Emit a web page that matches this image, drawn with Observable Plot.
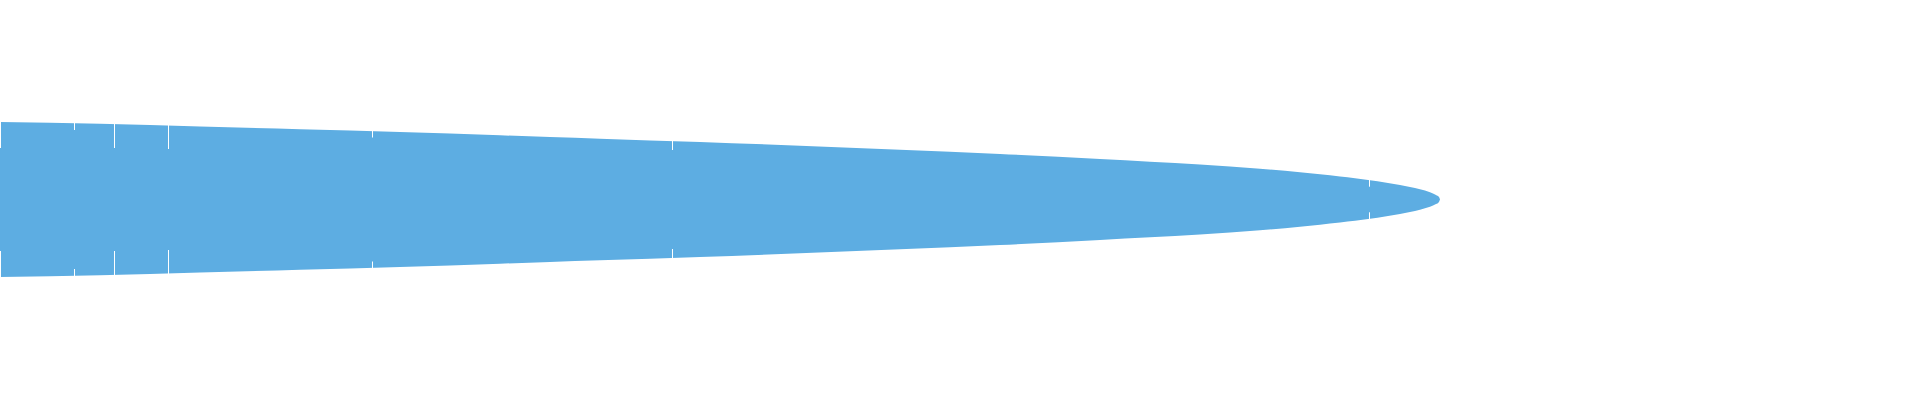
<!DOCTYPE html>
<html>
<head>
<meta charset="utf-8">
<script src="https://cdn.jsdelivr.net/npm/d3@7"></script>
<script src="https://cdn.jsdelivr.net/npm/@observablehq/plot@0.6"></script>
<style>
  html, body { margin: 0; padding: 0; background: #fff; }
  #chart svg { display: block; }
</style>
</head>
<body>
<div id="chart"></div>
<script>
// Profile of the shape: position along the axis and half-thickness
const positions = [0, 100, 200, 300, 400, 500, 550, 600, 700, 800, 900, 1000, 1100, 1150, 1200, 1260, 1300, 1320, 1340, 1355, 1370, 1385, 1400, 1410, 1420, 1430, 1436, 1439, 1440];
const halfWidths = [77.5, 75.8, 73.0, 70.3, 67.5, 64.2, 62.5, 60.8, 57.5, 53.8, 49.8, 45.5, 40.5, 37.8, 35.0, 30.8, 27.3, 25.2, 23.0, 21.3, 19.3, 17.0, 14.4, 12.5, 10.2, 7.3, 4.6, 2.4, 0];

// Marker notches (white) at these positions, reaching in to this distance from the centre
const markPositions = [0, 74, 114, 168, 372, 672, 1369];
const markInner = [51.5, 69.5, 51.5, 50.5, 62, 49.5, 12.8];
const markOuter = [90, 90, 90, 90, 90, 90, 90];

const profile = positions.map((p, i) => ({p, h: halfWidths[i]}));
const marks = markPositions.map((p, i) => ({p, inner: markInner[i], outer: markOuter[i]}));

const chart = Plot.plot({
  width: 1920,
  height: 400,
  margin: 0,
  x: {domain: [0, 1920], range: [0, 1920], axis: null},
  y: {domain: [-200.5, 199.5], axis: null},
  marks: [
    Plot.areaY(profile, {x: "p", y1: d => -d.h, y2: d => d.h, fill: "#5DADE2", curve: "monotone-x"}),
    Plot.ruleX(marks, {x: "p", y1: "inner", y2: "outer", stroke: "#fff", strokeWidth: 1}),
    Plot.ruleX(marks, {x: "p", y1: d => -d.inner, y2: d => -d.outer, stroke: "#fff", strokeWidth: 1})
  ]
});
document.getElementById("chart").appendChild(chart);
</script>
</body>
</html>
